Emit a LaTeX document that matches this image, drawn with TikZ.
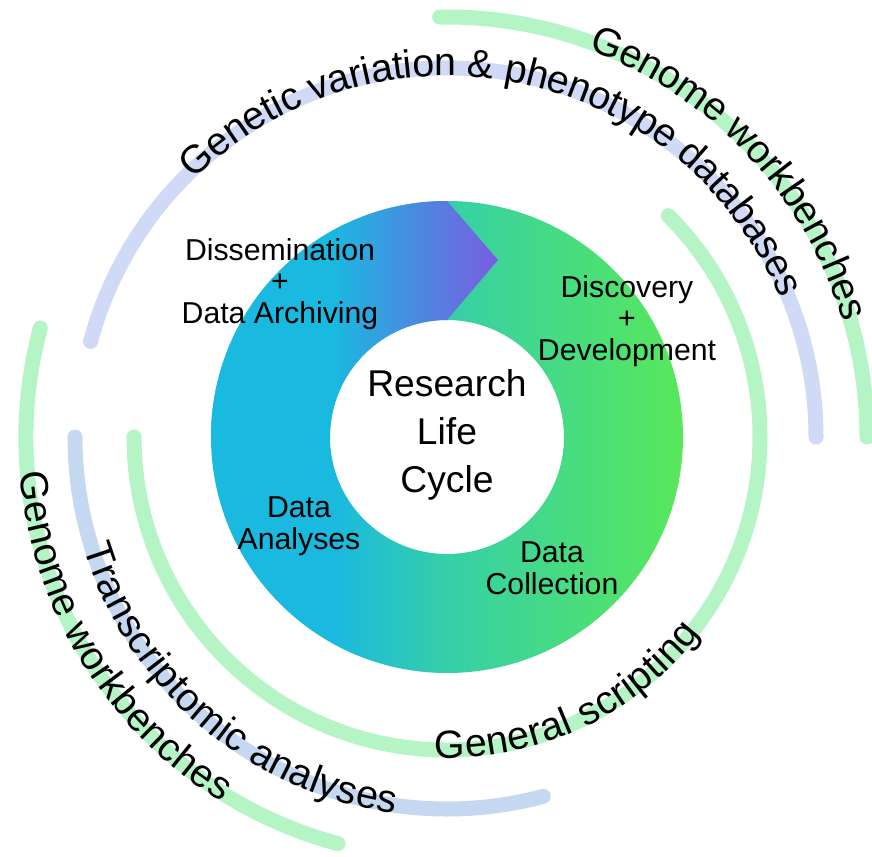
\documentclass[tikz,border=0pt]{standalone}
\usepackage{fontspec}
\setmainfont{Liberation Sans}
\usetikzlibrary{decorations.text}

\definecolor{ringcyan}{HTML}{1AB9E0}
\definecolor{ringteal}{HTML}{36CFA8}
\definecolor{ringgreen}{HTML}{58E85A}
\definecolor{ringpurple}{HTML}{7A5CE0}
\definecolor{bandlav}{HTML}{D0D9F5}
\definecolor{bandgreen}{HTML}{B5F5C5}
\definecolor{bandblue}{HTML}{C4D8F2}

\pgfdeclarehorizontalshading{ringfill}{100bp}{color(0bp)=(ringcyan); color(25bp)=(ringcyan); color(38bp)=(ringcyan); color(50bp)=(ringteal); color(75bp)=(ringgreen); color(100bp)=(ringgreen)}
\pgfdeclarehorizontalshading{arrowfill}{100bp}{color(0bp)=(ringcyan); color(25bp)=(ringcyan); color(46bp)=(ringcyan); color(75bp)=(ringpurple); color(100bp)=(ringpurple)}

\newcommand\bandfont{\fontsize{28}{34}\selectfont}
\newcommand\stagefont{\fontsize{21.5}{22.5}\selectfont}
\newcommand\hubfont{\fontsize{26.5}{34}\selectfont}

\tikzset{
  band/.style={line width=0.375cm, line cap=round},
  bandtext/.style={decorate, decoration={text along path, text align=center, raise=-0.2cm, text={|\bandfont|#1}}},
  stage/.style={align=center, inner sep=0pt, font=\stagefont},
}

\begin{document}
\begin{tikzpicture}[x=0.025cm, y=0.025cm]
  \useasboundingbox (-447,-419) rectangle (425,437);

  % life cycle ring
  \shade[shading=ringfill] (0:236) arc[start angle=0, end angle=360, radius=236] -- cycle
    (0:117) arc[start angle=360, end angle=0, radius=117] -- cycle;
  \shade[shading=arrowfill] (180:236) arc[start angle=180, end angle=90, radius=236] -- (51,177)
    -- (90:117) arc[start angle=90, end angle=180, radius=117] -- cycle;

  % tool bands
  \draw[band, bandlav] (165:369) arc[start angle=165, end angle=0, radius=369];
  \draw[band, bandgreen] (91:420) arc[start angle=91, end angle=0, radius=420];
  \draw[band, bandgreen] (45:313) arc[start angle=45, end angle=-180, radius=313];
  \draw[band, bandblue] (180:372) arc[start angle=180, end angle=285, radius=372];
  \draw[band, bandgreen] (165:421) arc[start angle=165, end angle=255, radius=421];

  \path[bandtext={Genetic variation {\&} phenotype databases}] (160:369) arc[start angle=160, end angle=-3, radius=369];
  \path[bandtext={Genome workbenches}] (113:420) arc[start angle=113, end angle=-27, radius=420];
  \path[bandtext={General scripting}] (-125:313) arc[start angle=-125, end angle=-5, radius=313];
  \path[bandtext={Transcriptomic analyses}] (169.5:372) arc[start angle=169.5, end angle=289.5, radius=372];
  \path[bandtext={Genome workbenches}] (151.5:421) arc[start angle=151.5, end angle=271.5, radius=421];

  \node[font=\hubfont, align=center, inner sep=0pt] (hub) at (0,2) {Research\\Life\\Cycle};
  \node[stage] (dissem) at (-167,153) {Dissemination\\+\\Data Archiving};
  \node[stage] (discov) at (180,116) {Discovery\\+\\Development};
  \node[stage] (analyses) at (-148,-89) {Data\\Analyses};
  \node[stage] (collect) at (105,-131) {Data\\Collection};
\end{tikzpicture}
\end{document}
